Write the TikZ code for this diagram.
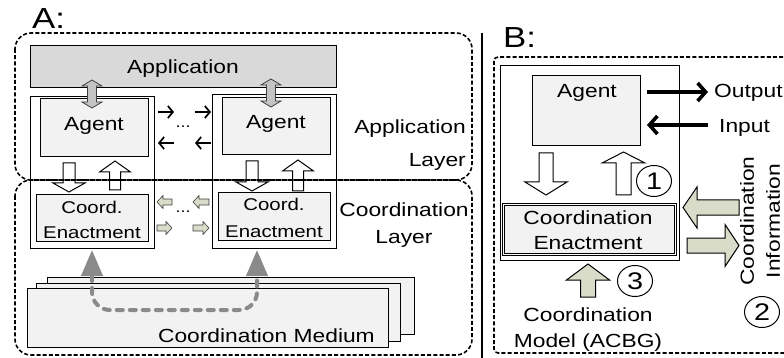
\documentclass[tikz,border=0pt]{standalone}
\usepackage{fontspec}
\setmainfont{Liberation Sans}[FakeStretch=1.2]
\usetikzlibrary{arrows.meta,shapes.geometric}

\definecolor{boxgray}{HTML}{F2F2F2}
\definecolor{appgray}{HTML}{D9D9D9}
\definecolor{sage}{HTML}{D8DCC8}
\definecolor{linkgray}{HTML}{8A8A8A}
\definecolor{dblgray}{HTML}{C4C4C4}

% rectangle node from corner (x1,y1) to corner (x2,y2)
\newcommand\boxat[6]{\node[#2, minimum width={#5pt-#3pt}, minimum height={#6pt-#4pt}] (#1) at ({(#3+#5)/2},{(#4+#6)/2}) {};}
% vertical block arrow: style, x, y tail, y tip, shaft half width, head half width, head length
\newcommand\varr[7]{\pgfmathsetmacro\arrhb{(#3>#4) ? #4+#7 : #4-#7}%
  \draw[#1] (#2-#5,#3) -- (#2-#5,\arrhb) -- (#2-#6,\arrhb) -- (#2,#4) -- (#2+#6,\arrhb) -- (#2+#5,\arrhb) -- (#2+#5,#3) -- cycle;}
% horizontal block arrow: style, y, x tail, x tip, shaft half width, head half width, head length
\newcommand\harr[7]{\pgfmathsetmacro\arrhb{(#3>#4) ? #4+#7 : #4-#7}%
  \draw[#1] (#3,#2-#5) -- (\arrhb,#2-#5) -- (\arrhb,#2-#6) -- (#4,#2) -- (\arrhb,#2+#6) -- (\arrhb,#2+#5) -- (#3,#2+#5) -- cycle;}
% vertical double-headed block arrow: style, x, y top, y bottom, shaft half, head half, head length
\newcommand\dvarr[7]{%
  \draw[#1] (#2,#3) -- (#2+#6,#3+#7) -- (#2+#5,#3+#7) -- (#2+#5,#4-#7) -- (#2+#6,#4-#7) -- (#2,#4)
    -- (#2-#6,#4-#7) -- (#2-#5,#4-#7) -- (#2-#5,#3+#7) -- (#2-#6,#3+#7) -- cycle;}

\begin{document}
\begin{tikzpicture}[x=1pt,y=-1pt,line join=miter,
  plainbox/.style={draw,line width=1pt,inner sep=0pt},
  lbl/.style={inner sep=0pt,anchor=base,font=\fontsize{19}{22}\selectfont},
  lblsmall/.style={inner sep=0pt,anchor=base,font=\fontsize{17}{20}\selectfont},
  biglbl/.style={inner sep=0pt,anchor=base west,font=\fontsize{29}{31}\selectfont},
  dots/.style={inner sep=0pt,font=\fontsize{15}{16}\selectfont},
  numcirc/.style={draw,line width=1pt,ellipse,inner sep=0pt,minimum width=35pt,minimum height=31pt,font=\fontsize{24}{25}\selectfont},
  whitearr/.style={draw,fill=white,line width=1pt},
  greenarr/.style={draw,fill=sage,line width=1pt},
  smallgreen/.style={draw=black!75,fill=sage,line width=0.6pt},
  dblarr/.style={draw=black!75,fill=dblgray,line width=0.8pt},
  thinarr/.style={line width=1.7pt,-{Straight Barb[length=5pt,width=12pt]}},
  thickarr/.style={line width=3.6pt,-{Straight Barb[length=8pt,width=18pt]}},
  layerbox/.style={line width=1.6pt,dash pattern=on 4pt off 2.2pt,rounded corners=16pt},
  linkpath/.style={linkgray,line width=4pt,line cap=round,dash pattern=on 6pt off 7pt,rounded corners=18pt,
    {Triangle[length=26pt,width=21pt]}-{Triangle[length=26pt,width=21pt]}}]
\useasboundingbox (0,0) rectangle (784,358);

% ---------------- A ----------------
\node[biglbl] (labA) at (32,29) {A:};

\boxat{app}{plainbox,fill=appgray}{30}{46}{336}{88}
\node[lbl] (appt) at (183,74) {Application};

% two agents, each with its coordination enactment
\boxat{agLout}{plainbox}{30}{97}{154}{248}
\boxat{agLin}{plainbox,fill=boxgray}{40}{99}{148}{157}
\boxat{agRout}{plainbox}{212}{95}{336}{248}
\boxat{agRin}{plainbox,fill=boxgray}{222}{98}{330}{155}
\node[lbl] (agLt) at (94,131) {Agent};
\node[lbl] (agRt) at (276,129) {Agent};

\boxat{ceL}{plainbox,fill=boxgray}{36}{195}{148}{241}
\boxat{ceR}{plainbox,fill=boxgray}{218}{193}{330}{240}
\node[lblsmall] (ceL1) at (92,213) {Coord.};
\node[lblsmall] (ceL2) at (92,238) {Enactment};
\node[lblsmall] (ceR1) at (274,211) {Coord.};
\node[lblsmall] (ceR2) at (274,237) {Enactment};

% application <-> agent
\dvarr{dblarr}{92}{80}{108}{4.5}{10}{6}
\dvarr{dblarr}{271}{79}{107}{4.5}{10}{6}

% agent <-> coordination enactment
\varr{whitearr}{69}{163}{192}{6}{16}{9}
\varr{whitearr}{115}{190}{161}{5.5}{15.5}{11}
\varr{whitearr}{252}{161}{191}{6}{16}{9}
\varr{whitearr}{298}{191}{160}{5.5}{15.5}{11}

% messages between agents
\coordinate (m1a) at (158,112); \coordinate (m1b) at (174,112);
\coordinate (m2a) at (195,112); \coordinate (m2b) at (211,112);
\coordinate (m3a) at (174,143); \coordinate (m3b) at (158,143);
\coordinate (m4a) at (211,143); \coordinate (m4b) at (195,143);
\draw[thinarr] (m1a) -- (m1b);
\draw[thinarr] (m2a) -- (m2b);
\draw[thinarr] (m3a) -- (m3b);
\draw[thinarr] (m4a) -- (m4b);
\node[dots] (dotsA) at (183,127) {...};

% coordination messages between enactments
\harr{smallgreen}{202}{172}{157}{3}{6.5}{6}
\harr{smallgreen}{202}{209}{193}{3}{6.5}{6}
\harr{smallgreen}{228}{157}{172}{3}{6.5}{6}
\harr{smallgreen}{228}{193}{209}{3}{6.5}{6}
\node[dots] (dotsB) at (183,212) {...};

% coordination medium (stacked)
\boxat{medC}{plainbox,fill=boxgray}{47}{277}{414}{334}
\boxat{medB}{plainbox,fill=boxgray}{36}{283}{400}{341}
\boxat{medA}{plainbox,fill=boxgray}{27}{288}{388}{347}
\node[lbl,anchor=base east] (medt) at (375,342) {Coordination Medium};

\coordinate (lkL) at (92,250);
\coordinate (lkLb) at (92,310);
\coordinate (lkRb) at (257,310);
\coordinate (lkR) at (257,250);
\draw[linkpath] (lkL) -- (lkLb) -- (lkRb) -- (lkR);

% layers
\draw[layerbox] (15,33) rectangle (472,180);
\draw[layerbox] (15,180) rectangle (472,355);
\node[lbl,anchor=base east] (alay1) at (466,134) {Application};
\node[lbl,anchor=base east] (alay2) at (466,167) {Layer};
\node[lbl] (clay1) at (404,217) {Coordination};
\node[lbl] (clay2) at (404,243) {Layer};

% divider
\coordinate (divT) at (482,33);
\coordinate (divB) at (482,358);
\draw[line width=2pt] (divT) -- (divB);

% ---------------- B ----------------
\node[biglbl] (labB) at (503,48) {B:};
\draw[layerbox,rounded corners=4pt] (494,57) rectangle (800,353);

\boxat{bOut}{plainbox}{500}{66}{679}{260}
\boxat{bAgent}{plainbox,fill=boxgray}{532}{76}{640}{146}
\node[lbl] (bAgentt) at (587,98) {Agent};

\coordinate (oS) at (647,92); \coordinate (oE) at (708,92);
\coordinate (iS) at (708,125); \coordinate (iE) at (647,125);
\draw[thickarr] (oS) -- (oE);
\draw[thickarr] (iS) -- (iE);
\node[lbl,anchor=base west] (outt) at (714,98) {Output};
\node[lbl,anchor=base west] (inpt) at (719,133) {Input};

\boxat{bCE}{draw,double,double distance=1.6pt,line width=0.8pt,fill=boxgray,inner sep=0pt}{503.5}{204.5}{675.5}{254.5}
\node[lbl] (bCE1) at (588,224) {Coordination};
\node[lbl] (bCE2) at (588,249) {Enactment};

\varr{whitearr}{546}{153}{195}{7}{21}{13}
\varr{whitearr}{623.5}{195}{152}{7.5}{21.5}{11}
\node[numcirc] (c1) at (654,181) {1};

\harr{greenarr}{207.5}{739}{683}{7.5}{20.5}{14}
\harr{greenarr}{245.5}{687}{739}{7.5}{21}{14}
\node[rotate=90,align=center,inner sep=0pt,font=\fontsize{19}{26}\selectfont] (cinfo) at (760,221) {Coordination\\Information};
\node[numcirc] (c2) at (762,312) {2};

\varr{greenarr}{588}{297}{264}{7.5}{21.5}{16}
\node[numcirc] (c3) at (635,281) {3};
\node[lbl] (cm1) at (588,321) {Coordination};
\node[lbl] (cm2) at (588,347) {Model (ACBG)};
\end{tikzpicture}
\end{document}
